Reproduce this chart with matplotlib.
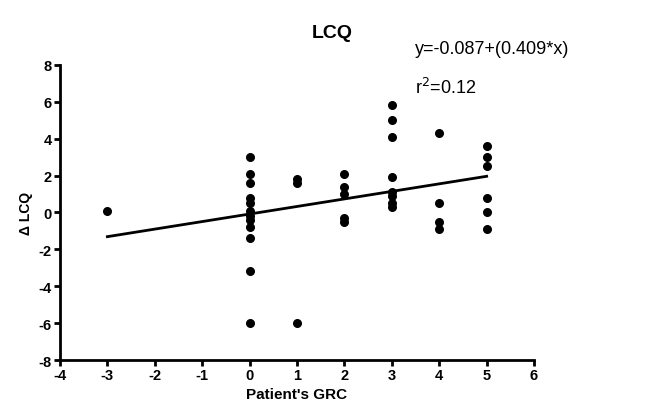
import matplotlib
matplotlib.use('Agg')
import matplotlib.pyplot as plt

plt.rcParams['font.family'] = ['Liberation Sans', 'DejaVu Sans']
plt.rcParams['axes.unicode_minus'] = False

# Patient's GRC vs change in LCQ
grc = [-3,
       0, 0, 0, 0, 0, 0, 0, 0, 0, 0, 0, 0,
       1, 1, 1,
       2, 2, 2, 2, 2,
       3, 3, 3, 3, 3, 3, 3, 3,
       4, 4, 4, 4,
       5, 5, 5, 5, 5, 5]
dlcq = [0.1,
        3.0, 2.1, 1.6, 0.8, 0.5, 0.1, -0.2, -0.4, -0.8, -1.4, -3.2, -6.0,
        1.8, 1.6, -6.0,
        2.1, 1.4, 1.0, -0.3, -0.5,
        5.8, 5.0, 4.1, 1.9, 1.1, 0.9, 0.5, 0.3,
        4.3, 0.5, -0.5, -0.9,
        3.6, 3.0, 2.5, 0.8, 0.0, -0.9]

intercept = -0.087
slope = 0.409
fit_x = [-3, 5]
fit_y = [intercept + slope * v for v in fit_x]

fig = plt.figure(figsize=(6.45, 4.14), dpi=100)
ax = fig.add_axes([0.093, 0.128, 0.735, 0.713])

ax.scatter(grc, dlcq, s=30, color='black', zorder=3)
ax.plot(fit_x, fit_y, color='black', linewidth=2)

ax.set_xlim(-4, 6)
ax.set_ylim(-8, 8)
ax.set_xticks(range(-4, 7))
ax.set_yticks(range(-8, 9, 2))
for side in ['top', 'right']:
    ax.spines[side].set_visible(False)
for side in ['left', 'bottom']:
    ax.spines[side].set_linewidth(2)
ax.tick_params(width=2, length=4, labelsize=10.5, pad=2)
for lbl in ax.get_xticklabels() + ax.get_yticklabels():
    lbl.set_fontweight('bold')

ax.set_xlabel("Patient's GRC", fontsize=11, fontweight='bold', labelpad=3)
ax.set_ylabel("\u0394 LCQ", fontsize=10, fontweight='bold', labelpad=4)

fig.text(332 / 645, 1 - 33 / 414, "LCQ", fontsize=14, fontweight='bold',
         ha='center', va='center')
fig.text(415 / 645, 1 - 49 / 414, "y=-0.087+(0.409*x)", fontsize=13,
         ha='left', va='center')
fig.text(415 / 645, 1 - 88 / 414, "r$^2$=0.12", fontsize=13,
         ha='left', va='center')

fig.savefig('out.png', dpi=100)
